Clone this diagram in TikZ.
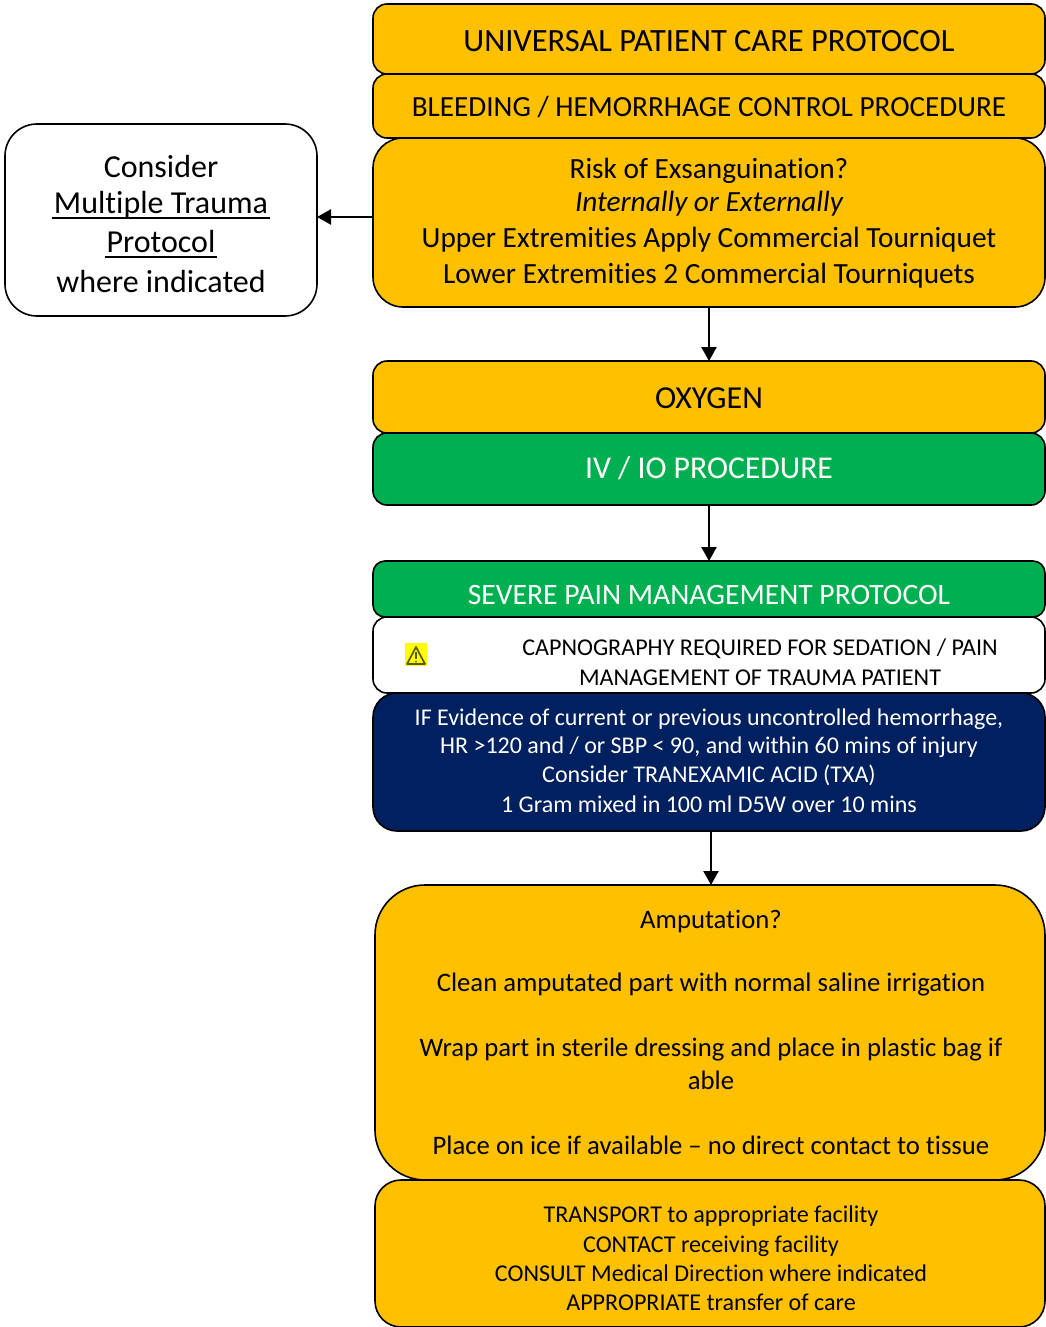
\documentclass[tikz,border=0pt]{standalone}
\usepackage{fontspec}
\setmainfont{Carlito}[Ligatures={NoCommon}]
\usetikzlibrary{arrows.meta}
\definecolor{amber}{HTML}{FFC000}
\definecolor{grn}{HTML}{00B050}
\definecolor{navy}{HTML}{002060}
\definecolor{warn}{HTML}{FFFF00}
\newcommand{\bx}[7]{%
 \node[#7, rounded corners=#6 pt, minimum width=#4pt-#2pt, minimum height=#5pt-#3pt, anchor=north west, inner sep=0pt, outer sep=0pt] (#1) at (#2pt,-#3pt) {};}
\newcommand{\tx}[6][black]{%
 \node[lab, text=#1, font=\fontsize{#5}{#5}\selectfont] (#2) at (#3pt,-#4pt-0.6pt) {#6};}
\newcommand{\ulx}[1]{\sbox0{#1}\leavevmode\rlap{\hspace{-2pt}\rule[-5.5pt]{\dimexpr\wd0+4pt\relax}{2pt}}#1}
\tikzset{
 box/.style={draw=black, line width=1.6pt},
 am/.style={box, fill=amber},
 gr/.style={box, fill=grn},
 nv/.style={box, fill=navy},
 wh/.style={box, fill=white},
 lab/.style={inner sep=0pt, anchor=base},
 arr/.style={-{Triangle[length=14pt,width=15pt]}, line width=2.4pt, black},
}
\begin{document}
\begin{tikzpicture}[x=1pt,y=1pt]
\useasboundingbox (0,0) rectangle (1045,-1327);
\bx{a}{373}{4}{1045}{74}{14}{am}
\bx{b}{373}{74}{1045}{138}{14}{am}
\bx{c}{373}{138}{1045}{307}{30}{am}
\bx{w}{5}{124}{317}{316}{32}{wh}
\bx{d}{373}{361}{1045}{433}{14}{am}
\bx{e}{373}{433}{1045}{505}{14}{gr}
\bx{f}{373}{561}{1045}{617}{12}{gr}
\bx{g}{373}{617}{1045}{693}{14}{wh}
\bx{h}{373}{693}{1045}{831}{24}{nv}
\bx{i}{375}{885}{1045}{1180}{50}{am}
\bx{j}{375}{1180}{1045}{1327}{26}{am}
\tx{ta}{709}{51}{32.5}{UNIVERSAL PATIENT CARE PROTOCOL}
\tx{tb}{709}{116}{29.2}{BLEEDING / HEMORRHAGE CONTROL PROCEDURE}
\tx{c1}{709}{178}{29.3}{Risk of Exsanguination?}
\tx{c2}{709}{211}{29.3}{\itshape Internally or Externally}
\tx{c3}{709}{247}{29.3}{Upper Extremities Apply Commercial Tourniquet}
\tx{c4}{709}{283}{29.3}{Lower Extremities 2 Commercial Tourniquets}
\tx{w1}{161}{177}{32}{Consider}
\tx{w2}{161}{213}{32}{\ulx{Multiple Trauma}}
\tx{w3}{161}{252}{32}{\ulx{Protocol}}
\tx{w4}{161}{292}{32}{where indicated}
\tx{dt}{709}{408}{32}{OXYGEN}
\tx[white]{et}{709}{478}{31.7}{IV / IO PROCEDURE}
\tx[white]{ft}{709}{604}{29.6}{SEVERE PAIN MANAGEMENT PROTOCOL}
\tx{g1}{760}{655}{24.1}{CAPNOGRAPHY REQUIRED FOR SEDATION / PAIN}
\tx{g2}{760}{685}{24.1}{MANAGEMENT OF TRAUMA PATIENT}
\tx[white]{h1}{709}{725}{24}{IF Evidence of current or previous uncontrolled hemorrhage,}
\tx[white]{h2}{709}{753}{24}{HR >120 and / or SBP < 90, and within 60 mins of injury}
\tx[white]{h3}{709}{782}{24}{Consider TRANEXAMIC ACID (TXA)}
\tx[white]{h4}{709}{812}{24}{1 Gram mixed in 100 ml D5W over 10 mins}
\tx{i1}{711}{928}{26.7}{Amputation?}
\tx{i2}{711}{991}{26.7}{Clean amputated part with normal saline irrigation}
\tx{i3}{711}{1056}{26.7}{Wrap part in sterile dressing and place in plastic bag if}
\tx{i4}{711}{1089}{26.7}{able}
\tx{i5}{711}{1154}{26.7}{Place on ice if available – no direct contact to tissue}
\tx{j1}{711}{1222}{24.1}{TRANSPORT to appropriate facility}
\tx{j2}{711}{1252}{24.1}{CONTACT receiving facility}
\tx{j3}{711}{1281}{24.1}{CONSULT Medical Direction where indicated}
\tx{j4}{711}{1310}{24.1}{APPROPRIATE transfer of care}
\draw[arr] (c.west |- 0,-217) -- (w.east |- 0,-217);
\draw[arr] (c.south) -- (d.north);
\draw[arr] (e.south) -- (f.north);
\draw[arr] (h.south -| 711,0) -- (i.north -| 711,0);
% warning icon
\fill[warn] (405,-643) rectangle (427,-666);
\draw[line width=1.7pt, black!65!warn, line join=round] (416,-647) -- (425,-664) -- (407,-664) -- cycle;
\draw[line width=2pt, black!65!warn] (416,-652) -- (416,-659);
\fill[black!65!warn] (416,-661.5) circle (1);
\end{tikzpicture}
\end{document}
